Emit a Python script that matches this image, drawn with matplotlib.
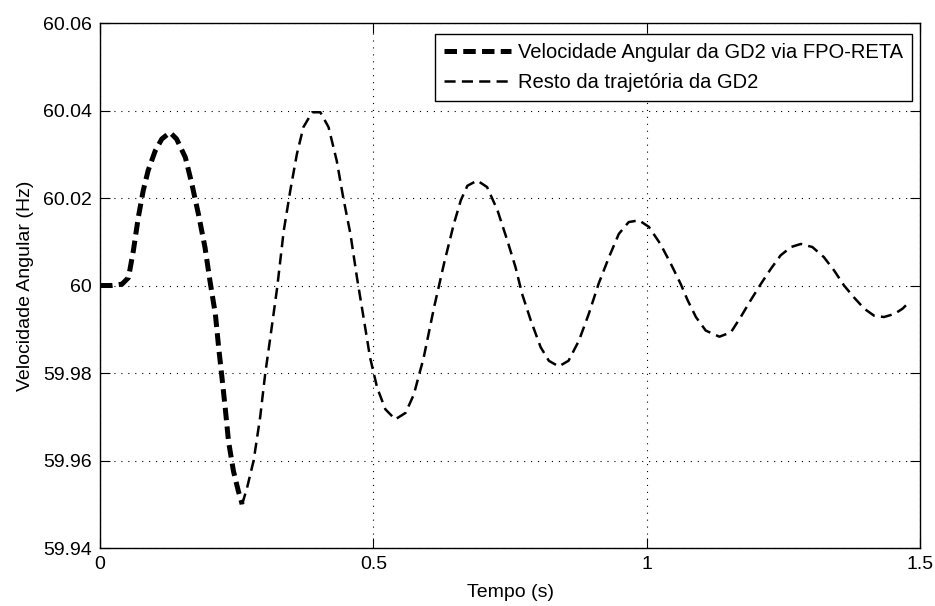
import numpy as np
import matplotlib
matplotlib.use('Agg')
from matplotlib import pyplot as plt

# valores lidos do grafico
# trecho via FPO-RETA (linha grossa)
t_fpo = [0.0, 0.02, 0.04, 0.052, 0.061, 0.070, 0.079, 0.088, 0.101, 0.113, 0.128,
         0.140, 0.156, 0.168, 0.180, 0.192, 0.201, 0.211, 0.217, 0.223, 0.229,
         0.235, 0.244, 0.253, 0.260]
w_fpo = [60.0, 60.0, 60.0003, 60.0018, 60.008, 60.0156, 60.0217, 60.0263, 60.0308, 60.0335, 60.035,
         60.0335, 60.0293, 60.0232, 60.0163, 60.0087, 60.0011, 59.9934, 59.9858, 59.979, 59.972,
         59.9644, 59.9576, 59.953, 59.950]

# resto da trajetoria (linha fina)
t_resto = [0.260, 0.269, 0.281, 0.293, 0.302, 0.311, 0.324, 0.336, 0.348, 0.360, 0.372,
           0.388, 0.403, 0.418, 0.433, 0.445, 0.458, 0.470, 0.482, 0.494, 0.507,
           0.522, 0.540, 0.559, 0.574, 0.592, 0.611, 0.629, 0.647, 0.660, 0.672,
           0.690, 0.708, 0.727, 0.745, 0.760, 0.772, 0.788, 0.806, 0.821, 0.839,
           0.857, 0.876, 0.894, 0.912, 0.931, 0.949, 0.967, 0.986, 1.004, 1.025,
           1.044, 1.062, 1.075, 1.090, 1.108, 1.133, 1.154, 1.172, 1.190, 1.209,
           1.227, 1.245, 1.264, 1.282, 1.303, 1.324, 1.343, 1.361, 1.379, 1.398,
           1.416, 1.434, 1.453, 1.468, 1.480]
w_resto = [59.950, 59.9538, 59.960, 59.970, 59.9797, 59.9877, 59.9995, 60.0125, 60.0217, 60.030, 60.0362,
           60.0396, 60.0396, 60.0362, 60.0285, 60.020, 60.0118, 60.0018, 59.9927, 59.9835, 59.9766,
           59.9717, 59.9694, 59.9709, 59.9751, 59.9835, 59.995, 60.0049, 60.014, 60.0195, 60.0228,
           60.024, 60.0225, 60.0172, 60.0103, 60.0042, 59.9981, 59.992, 59.9859, 59.9828, 59.9815,
           59.9828, 59.9874, 59.9935, 60.0004, 60.0065, 60.0118, 60.0145, 60.0149, 60.0134, 60.0095,
           60.005, 60.0004, 59.9966, 59.9928, 59.9897, 59.9883, 59.9893, 59.9928, 59.9966, 60.0004,
           60.0038, 60.0069, 60.0088, 60.0095, 60.0088, 60.0065, 60.0034, 60.0, 59.9973, 59.9947,
           59.9931, 59.9928, 59.9935, 59.9947, 59.9962]

xticks = [0, 0.5, 1, 1.5]
xticklabels = ['0', '0.5', '1', '1.5']
yticks = [59.94, 59.96, 59.98, 60.0, 60.02, 60.04, 60.06]
yticklabels = ['59.94', '59.96', '59.98', '60', '60.02', '60.04', '60.06']

plt.rcParams['font.family'] = ['Liberation Sans', 'DejaVu Sans']
plt.rcParams['font.size'] = 14
plt.rcParams['lines.scale_dashes'] = False

fig = plt.figure(figsize=(9.35, 6.06), dpi=100)
ax = fig.add_axes([0.107, 0.0957, 0.877, 0.8663])

ax.plot(t_fpo, w_fpo, color='black', linewidth=3.6, dashes=(9, 4.5),
        label='Velocidade Angular da GD2 via FPO-RETA')
ax.plot(t_resto, w_resto, color='black', linewidth=1.8, dashes=(8, 4.5),
        label='Resto da trajetória da GD2')

ax.set_xlim(0, 1.5)
ax.set_ylim(59.94, 60.06)
ax.set_xticks(xticks)
ax.set_xticklabels(xticklabels)
ax.set_yticks(yticks)
ax.set_yticklabels(yticklabels)

ax.grid(True, color='black', linewidth=0.8, linestyle=(0, (0.8, 4.2)))
ax.tick_params(direction='in', length=7, width=0.8, top=True, right=True, pad=6)
for s in ax.spines.values():
    s.set_linewidth(1.0)

ax.set_xlabel('Tempo (s)', labelpad=8)
ax.set_ylabel('Velocidade Angular (Hz)', labelpad=6)

leg = ax.legend(loc='upper right', bbox_to_anchor=(0.990, 0.979), borderaxespad=0,
                fancybox=False, framealpha=1, edgecolor='black', handlelength=3.3,
                handletextpad=0.35, borderpad=0.45, labelspacing=0.55,
                fontsize=14.5)
leg.get_frame().set_linewidth(1.0)

fig.savefig('out.png', dpi=100)
